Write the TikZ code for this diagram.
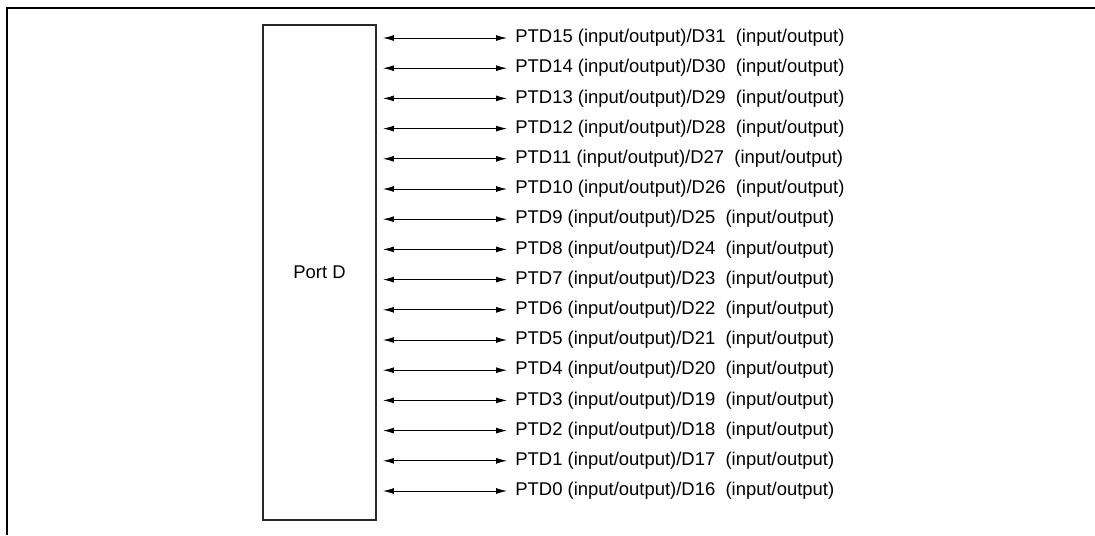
\documentclass[tikz,border=0pt]{standalone}
\usepackage{fontspec}
\setmainfont{Liberation Sans}
\usetikzlibrary{arrows.meta}
\definecolor{boxgray}{RGB}{40, 40, 40}

\begin{document}
\begin{tikzpicture}[x=0.02cm, y=-0.02cm,
    pin/.style={<->, >={Latex[length=0.22cm, width=0.12cm]}, line width=0.5pt, shorten <=0.14cm, shorten >=0.16cm},
    pinlabel/.style={anchor=west, inner sep=0pt, font=\fontsize{10.5}{12.6}\selectfont}]
    \useasboundingbox (0,0) rectangle (1095,535);
    % frame
    \draw[line width=1.2pt] (1095,8) -- (7,8) -- (7,535);
    % port block
    \node[draw=boxgray, line width=0.85pt, minimum width=2.26cm, minimum height=9.9cm, inner sep=0pt, outer sep=0pt,
          font=\fontsize{10.5}{12.6}\selectfont] (portd) at (319.5,272.5) {Port D};

    \foreach \i in {15,...,0} {
        \pgfmathsetmacro{\rowy}{38 + 30.2*(15-\i)}
        \pgfmathtruncatemacro{\dnum}{16+\i}
        \node[pinlabel] (ptd\i) at (515,\rowy) {PTD\i\ (input/output)/D\dnum\ \ (input/output)};
        \draw[pin] (portd.east |- ptd\i.west) -- (ptd\i.west);
    }
\end{tikzpicture}
\end{document}
